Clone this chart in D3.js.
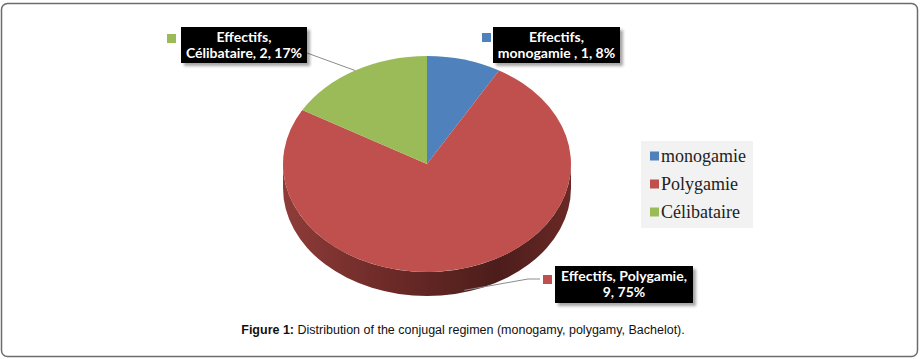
<!DOCTYPE html>
<html>
<head>
<meta charset="utf-8">
<script src="https://cdn.jsdelivr.net/npm/d3@7"></script>
<style>
    body { margin: 0; background: #fff; }
    svg { display: block; }
</style>
</head>
<body>
<div id="chart"></div>
<script>
// data
const categories = ['monogamie', 'Polygamie', 'Célibataire'];
const values = [1, 9, 2];
const percents = ['8%', '75%', '17%'];
const seriesName = 'Effectifs';
const colors = ['#4F81BD', '#C0504D', '#9BBB59'];

const width = 921, height = 359;
const cx = 427, cy = 164, rx = 144, ry = 108, depth = 24;

const svg = d3.select('#chart').append('svg')
    .attr('width', width)
    .attr('height', height);

const defs = svg.append('defs');

const sideGrad = defs.append('linearGradient')
    .attr('id', 'side-grad')
    .attr('x1', '0%').attr('x2', '100%').attr('y1', '0%').attr('y2', '0%');
sideGrad.append('stop').attr('offset', '0%').attr('stop-color', '#8e3c39');
sideGrad.append('stop').attr('offset', '35%').attr('stop-color', '#6e2b28');
sideGrad.append('stop').attr('offset', '75%').attr('stop-color', '#4c1d1b');
sideGrad.append('stop').attr('offset', '100%').attr('stop-color', '#6a2926');

const shadow = defs.append('filter')
    .attr('id', 'shadow')
    .attr('x', '-10%').attr('y', '-10%').attr('width', '130%').attr('height', '140%');
shadow.append('feDropShadow')
    .attr('dx', 3).attr('dy', 3).attr('stdDeviation', 1.5)
    .attr('flood-color', '#000').attr('flood-opacity', 0.35);

// outer frame
svg.append('rect')
    .attr('x', 1.5).attr('y', 3.5)
    .attr('width', 916).attr('height', 353)
    .attr('rx', 6)
    .attr('fill', 'none')
    .attr('stroke', '#6b6b6b')
    .attr('stroke-width', 1.5);

const pie = d3.pie().sort(null).value(d => d)(values);

// ellipse point for a d3 angle (0 = 12 o'clock, clockwise)
const pt = (a, dy = 0) => [cx + rx * Math.sin(a), cy - ry * Math.cos(a) + dy];

// side wall: front half of the ellipse, pushed down by depth
const k = ry / rx;
const g = svg.append('g')
    .attr('transform', `translate(${cx},${cy}) scale(1,${k})`);

pie.forEach((p, i) => {
    const a0 = Math.max(p.startAngle, Math.PI / 2);
    const a1 = Math.min(p.endAngle, 3 * Math.PI / 2);
    if (a1 <= a0) return;
    const d = depth / k;
    const x0 = rx * Math.sin(a0), y0 = -rx * Math.cos(a0);
    const x1 = rx * Math.sin(a1), y1 = -rx * Math.cos(a1);
    g.append('path')
        .attr('d', `M${x0},${y0} A${rx},${rx} 0 0 1 ${x1},${y1} L${x1},${y1 + d} A${rx},${rx} 0 0 0 ${x0},${y0 + d} Z`)
        .attr('fill', 'url(#side-grad)');
});

const arc = d3.arc().innerRadius(0).outerRadius(rx);
g.selectAll('.slice')
    .data(pie)
    .enter().append('path')
    .attr('class', 'slice')
    .attr('d', arc)
    .attr('fill', (d, i) => colors[i]);

// data labels
const labels = [
    {i: 2, x: 181, y: 27, w: 126, h: 36, lines: [`${seriesName},`, `${categories[2]}, ${values[2]}, ${percents[2]}`],
        sq: [167, 34], leader: [[307, 53]]},
    {i: 0, x: 493, y: 27, w: 127, h: 36, lines: [`${seriesName},`, `${categories[0]} , ${values[0]}, ${percents[0]}`],
        sq: [482, 33], leader: null},
    {i: 1, x: 555, y: 266, w: 138, h: 37, lines: [`${seriesName}, ${categories[1]},`, `${values[1]}, ${percents[1]}`],
        sq: [543, 275], leader: [[540, 279], [528, 279]]}
];

labels.forEach(l => {
    const p = pie[l.i];
    if (l.leader) {
        const mid = (p.startAngle + p.endAngle) / 2;
        const end = pt(mid, Math.cos(mid) < 0 ? depth - 2 : 0);
        svg.append('path')
            .attr('d', d3.line()(l.leader.concat([end])))
            .attr('fill', 'none')
            .attr('stroke', '#8c8c8c')
            .attr('stroke-width', 1);
    }
    svg.append('rect')
        .attr('x', l.sq[0]).attr('y', l.sq[1])
        .attr('width', 9).attr('height', 9)
        .attr('fill', colors[l.i]);
    svg.append('rect')
        .attr('x', l.x).attr('y', l.y)
        .attr('width', l.w).attr('height', l.h)
        .attr('fill', '#000')
        .attr('filter', 'url(#shadow)');
    svg.append('text')
        .attr('x', l.x + l.w / 2)
        .attr('y', l.y + 15)
        .attr('text-anchor', 'middle')
        .attr('fill', '#fff')
        .style('font-family', 'Lato, "Open Sans", sans-serif')
        .style('font-weight', 'bold')
        .style('font-size', '14px')
        .selectAll('tspan')
        .data(l.lines)
        .enter().append('tspan')
        .attr('x', l.x + l.w / 2)
        .attr('dy', (d, j) => j === 0 ? 0 : 16)
        .text(d => d);
});

// legend
const legend = svg.append('g').attr('transform', 'translate(641,141)');
legend.append('rect')
    .attr('width', 112).attr('height', 87)
    .attr('fill', '#f2f2f2');
const items = legend.selectAll('.item')
    .data(categories)
    .enter().append('g')
    .attr('class', 'item')
    .attr('transform', (d, i) => `translate(9,${15 + i * 28})`);
items.append('rect')
    .attr('y', -4.5)
    .attr('width', 9).attr('height', 9)
    .attr('fill', (d, i) => colors[i]);
items.append('text')
    .attr('x', 11)
    .attr('y', 5.5)
    .attr('fill', '#222')
    .style('font-family', '"Liberation Serif", "Times New Roman", serif')
    .style('font-size', '18px')
    .text(d => d);

// caption
const cap = svg.append('text')
    .attr('x', 463)
    .attr('y', 334)
    .attr('text-anchor', 'middle')
    .attr('fill', '#111')
    .style('font-family', '"Liberation Sans", Arial, sans-serif')
    .style('font-size', '12.5px');
cap.append('tspan').style('font-weight', 'bold').text('Figure 1:');
cap.append('tspan').text(' Distribution of the conjugal regimen (monogamy, polygamy, Bachelot).');
</script>
</body>
</html>
